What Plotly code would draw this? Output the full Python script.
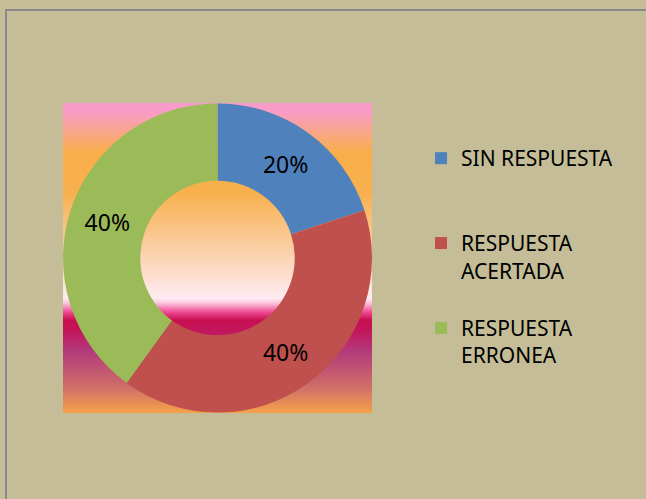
import base64
import plotly.graph_objects as go

# datos del grafico
categorias = ["SIN RESPUESTA<br> <br> ", "RESPUESTA<br>ACERTADA<br> ", "RESPUESTA<br>ERRONEA<br> "]
valores = [20, 40, 40]
colores = ["#4F81BD", "#C0504D", "#9BBB59"]

W, H = 646, 499

# fondo degradado del area del grafico (preset de Office)
stops = [
    (0.00, "#F99ACA"), (0.03, "#F99CC4"), (0.11, "#F8A87A"), (0.16, "#F8AE4A"),
    (0.29, "#F8B04E"), (0.50, "#FBD4B4"), (0.63, "#FEEBF2"), (0.645, "#FCC6DC"),
    (0.674, "#EE4C95"), (0.70, "#C80F50"), (0.73, "#C4145A"), (0.80, "#B23A7C"),
    (0.92, "#D07068"), (1.00, "#F5A24A"),
]
stop_xml = "".join(f'<stop offset="{o}" stop-color="{c}"/>' for o, c in stops)
svg = (
    '<svg xmlns="http://www.w3.org/2000/svg" width="100" height="100" preserveAspectRatio="none">'
    '<defs><linearGradient id="g" x1="0" y1="0" x2="0" y2="1">' + stop_xml +
    '</linearGradient></defs><rect width="100" height="100" fill="url(#g)"/></svg>'
)
fondo = "data:image/svg+xml;base64," + base64.b64encode(svg.encode()).decode()

# caja de la dona en pixeles
x0, x1, y0, y1 = 63, 372, 103, 413

fig = go.Figure(go.Pie(
    labels=categorias,
    values=valores,
    hole=0.5,
    sort=False,
    direction="clockwise",
    rotation=0,
    marker=dict(colors=colores, line=dict(width=0)),
    texttemplate="%{percent:.0%}",
    textposition="inside",
    insidetextorientation="horizontal",
    textfont=dict(family="Noto Sans", size=23, color="black"),
    domain=dict(x=[x0 / W, x1 / W], y=[1 - y1 / H, 1 - y0 / H]),
    hoverinfo="label+percent",
))

fig.update_layout(
    width=W,
    height=H,
    margin=dict(l=0, r=0, t=0, b=0),
    paper_bgcolor="#C4BD97",
    plot_bgcolor="#C4BD97",
    font=dict(family="Noto Sans", color="black"),
    legend=dict(
        x=421 / W, y=1 - 138 / H, xanchor="left", yanchor="top",
        valign="top",
        font=dict(size=21, color="black"),
        bgcolor="rgba(0,0,0,0)",
        itemclick=False,
    ),
    images=[dict(
        source=fondo, xref="paper", yref="paper",
        x=x0 / W, y=1 - y0 / H, sizex=(x1 - x0) / W, sizey=(y1 - y0) / H,
        xanchor="left", yanchor="top", sizing="stretch", layer="below",
    )],
    shapes=[dict(
        type="rect", xref="paper", yref="paper",
        x0=6 / W, y0=-0.02, x1=1.02, y1=1 - 10 / H,
        line=dict(color="#8A8A8A", width=2),
    )],
)

fig.write_html(
    "out.html",
    config={"displayModeBar": False},
    post_script="document.body.style.margin='0';",
)
